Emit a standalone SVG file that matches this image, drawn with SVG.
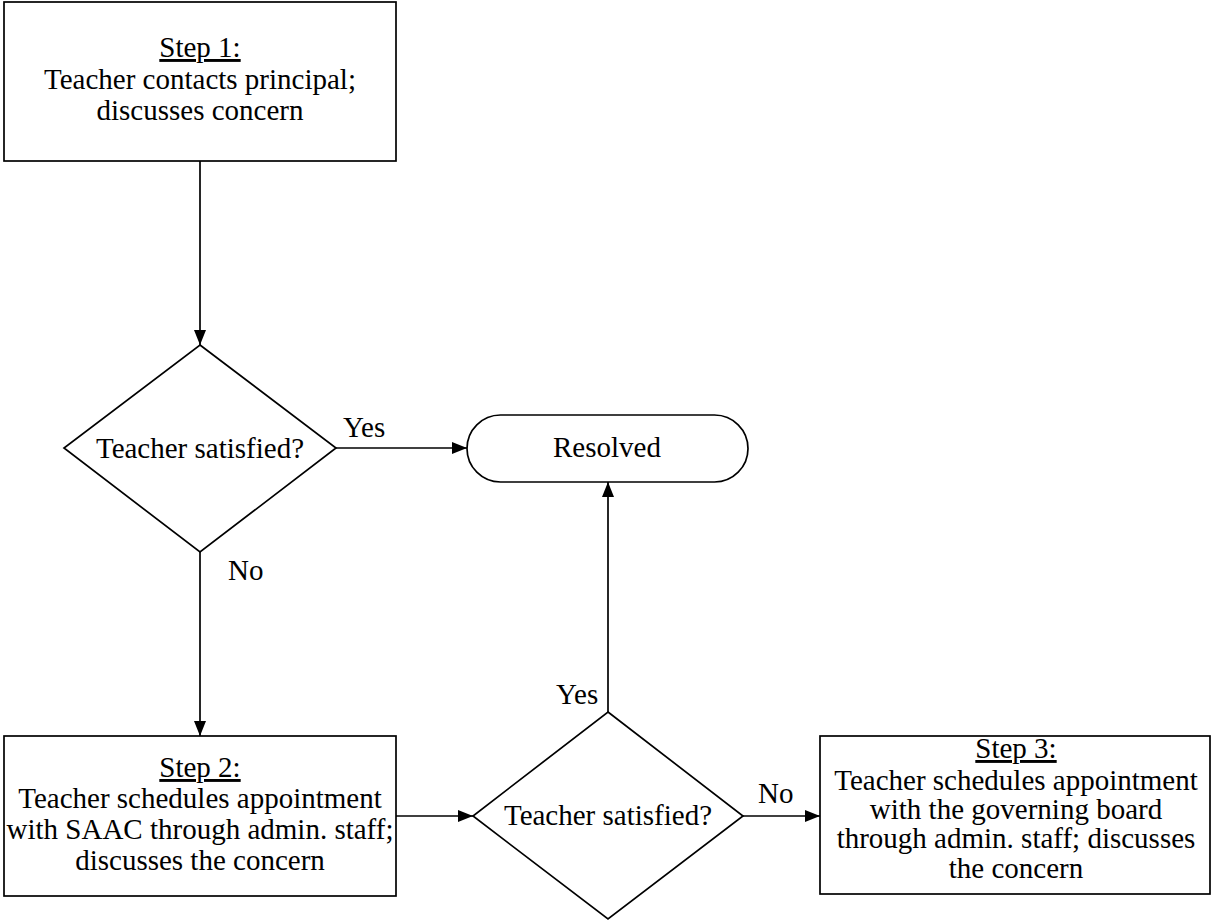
<svg xmlns="http://www.w3.org/2000/svg" width="1211" height="922" viewBox="0 0 1211 922">
  <style>
    .shape { fill: #ffffff; stroke: #000000; stroke-width: 1.7; }
    .link { fill: none; stroke: #000000; stroke-width: 1.7; }
    text { font-family: "Liberation Serif", "DejaVu Serif", serif; font-size: 29px; fill: #000000; text-anchor: middle; }
    .lbl { text-anchor: start; }
    .u { text-decoration: underline; }
  </style>
  <defs>
    <marker id="arrow" viewBox="0 0 15 12" refX="15" refY="6" markerWidth="15" markerHeight="12" markerUnits="userSpaceOnUse" orient="auto">
      <path d="M0,0 L15,6 L0,12 Z" fill="#000000"/>
    </marker>
  </defs>
  <rect width="1211" height="922" fill="#ffffff"/>

  <g id="connectors">
    <line class="link" x1="200" y1="161" x2="200" y2="345" marker-end="url(#arrow)"/>
    <line class="link" x1="336" y1="448" x2="467" y2="448" marker-end="url(#arrow)"/>
    <line class="link" x1="200" y1="552" x2="200" y2="736" marker-end="url(#arrow)"/>
    <line class="link" x1="396" y1="816" x2="473" y2="816" marker-end="url(#arrow)"/>
    <line class="link" x1="608" y1="712" x2="608" y2="482" marker-end="url(#arrow)"/>
    <line class="link" x1="743" y1="816" x2="820" y2="816" marker-end="url(#arrow)"/>
    <text class="lbl" x="343" y="437">Yes</text>
    <text class="lbl" x="228" y="580">No</text>
    <text class="lbl" x="556" y="704">Yes</text>
    <text class="lbl" x="758" y="803">No</text>
  </g>

  <g id="step1">
    <rect class="shape" x="4" y="2" width="392" height="159"/>
    <text x="200" y="57" class="u">Step 1:</text>
    <text x="200" y="89">Teacher contacts principal;</text>
    <text x="200" y="120">discusses concern</text>
  </g>

  <g id="decision1">
    <polygon class="shape" points="200,345 336,448 200,552 64,448"/>
    <text x="200" y="458">Teacher satisfied?</text>
  </g>

  <g id="resolved">
    <rect class="shape" x="467" y="415" width="281" height="67" rx="33.5" ry="33.5"/>
    <text x="607" y="457">Resolved</text>
  </g>

  <g id="step2">
    <rect class="shape" x="4" y="736" width="392" height="160"/>
    <text x="200" y="777" class="u">Step 2:</text>
    <text x="200" y="808">Teacher schedules appointment</text>
    <text x="200" y="839">with SAAC through admin. staff;</text>
    <text x="200" y="870">discusses the concern</text>
  </g>

  <g id="decision2">
    <polygon class="shape" points="608,712 743,816 608,919 473,816"/>
    <text x="608" y="825">Teacher satisfied?</text>
  </g>

  <g id="step3">
    <rect class="shape" x="820" y="736" width="390" height="158"/>
    <text x="1016" y="758" class="u">Step 3:</text>
    <text x="1016" y="790">Teacher schedules appointment</text>
    <text x="1016" y="819">with the governing board</text>
    <text x="1016" y="848">through admin. staff; discusses</text>
    <text x="1016" y="878">the concern</text>
  </g>
</svg>
